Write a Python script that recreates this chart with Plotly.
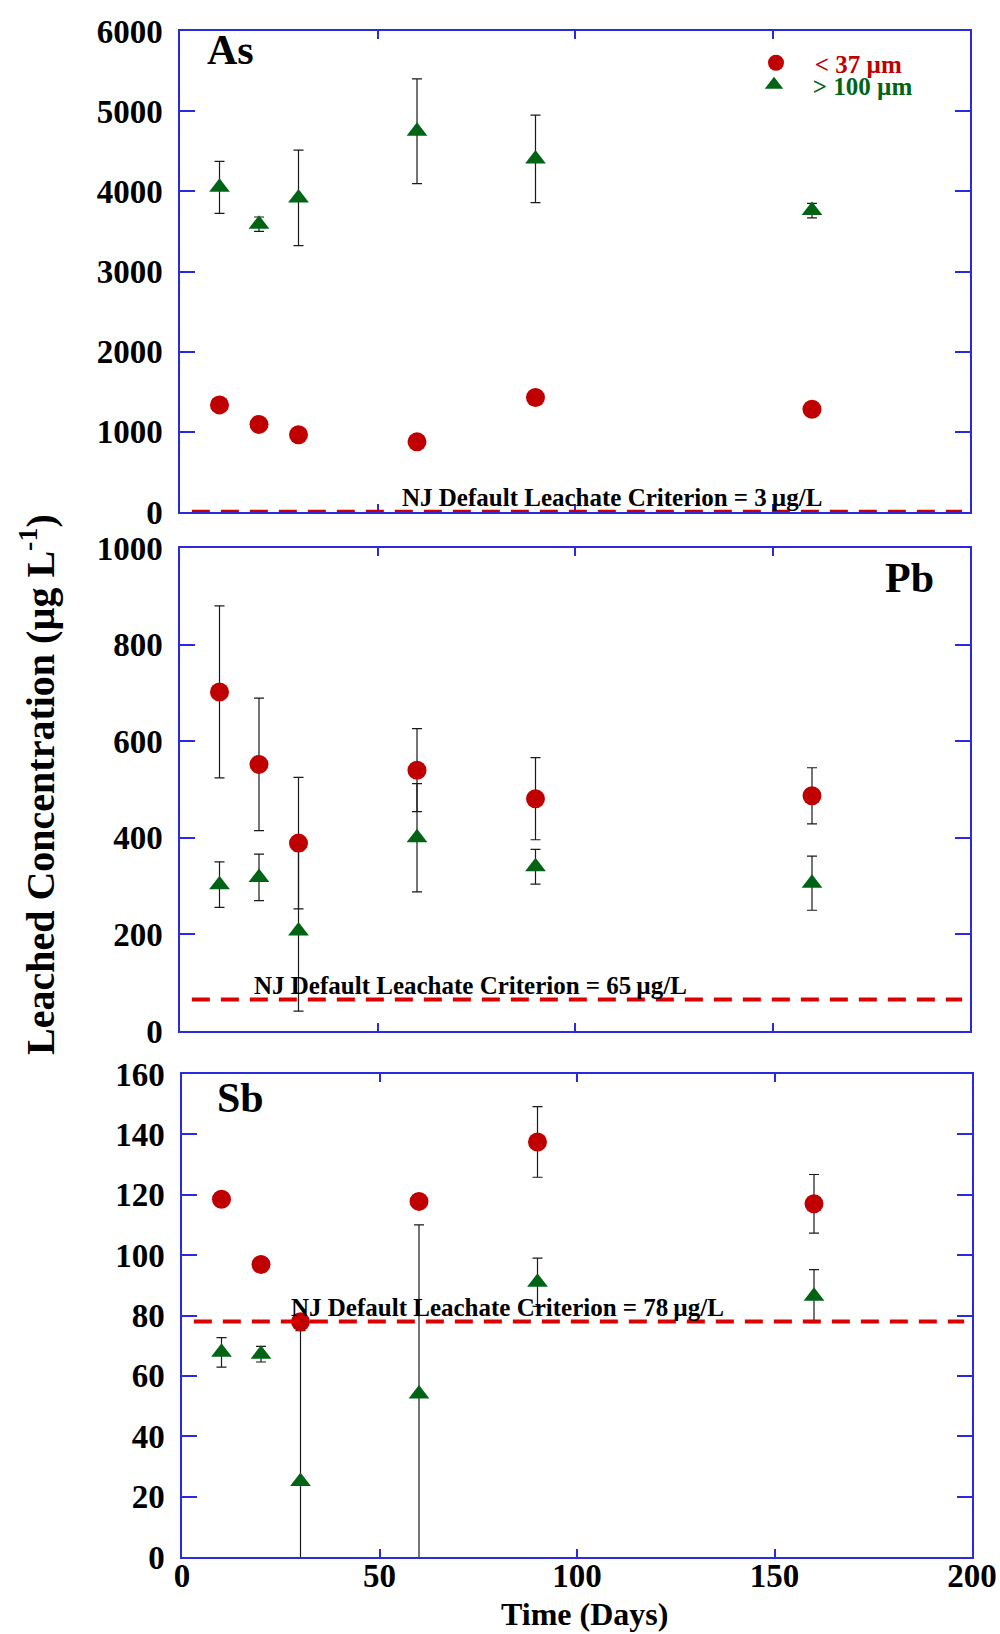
import plotly.graph_objects as go

# Sampling days (x) shared by all panels
DAYS = [10, 20, 30, 60, 90, 160]

# Arsenic, ug/L
AS_FINE = [1336, 1093, 963, 875, 1429, 1282]
AS_COARSE = [4050, 3590, 3918, 4750, 4404, 3760]
AS_COARSE_ERR = [324, 90, 595, 653, 546, 90]

# Lead, ug/L
PB_FINE = [702, 552, 389, 540, 481, 487]
PB_FINE_ERR = [178, 137, 136, 86, 85, 58]
PB_COARSE = [303, 318, 207, 400, 340, 306]
PB_COARSE_ERR = [47, 48, 166, 112, 36, 56]

# Antimony, ug/L
SB_FINE = [118.5, 96.9, 77.9, 117.8, 137.5, 117.0]
SB_FINE_ERR = [None, None, None, None, 11.7, 9.7]
SB_COARSE = [67.8, 67.2, 25.0, 54.0, 91.0, 86.4]
SB_COARSE_ERR = [4.9, 2.6, 50.0, 56.0, 8.0, 8.8]

ELEMENTS = ["As", "Pb", "Sb"]
CRITERIA = [3, 65, 78]          # NJ default leachate criteria, ug/L
Y_MAX = [6000, 1000, 160]
Y_STEP = [1000, 200, 20]
X_TICKS = [0, 50, 100, 150, 200]
SERIES_NAMES = ["< 37 µm", "> 100 µm"]

FONT = "Liberation Serif, Times New Roman, serif"
RED = "#C00000"
GREEN = "#006414"
AXIS_BLUE = "#2a2ae0"
DASH_RED = ["#C80000", "#DD0000", "#DD0000"]

W, H = 1000, 1634
# plot-area pixel boxes (left, right, top, bottom)
BOXES = [(180, 970, 31, 512), (180, 970, 548, 1031), (182, 972, 1074, 1557)]

panels = [
    (AS_FINE, None, AS_COARSE, AS_COARSE_ERR),
    (PB_FINE, PB_FINE_ERR, PB_COARSE, PB_COARSE_ERR),
    (SB_FINE, SB_FINE_ERR, SB_COARSE, SB_COARSE_ERR),
]

fig = go.Figure()


def err(arr):
    if arr is None:
        return dict(visible=False)
    return dict(type="data", array=arr, visible=True, color="#1a1a1a",
                thickness=1.2, width=5)


for i, (fine, fine_err, coarse, coarse_err) in enumerate(panels):
    xa = "x" if i == 0 else f"x{i + 1}"
    ya = "y" if i == 0 else f"y{i + 1}"
    fig.add_trace(go.Scatter(
        x=DAYS, y=coarse, mode="markers", xaxis=xa, yaxis=ya,
        name="\u00a0\u00a0\u00a0" + SERIES_NAMES[1], legend="legend2",
        showlegend=(i == 0),
        marker=dict(symbol="triangle-up", size=18, color=GREEN),
        error_y=err(coarse_err), cliponaxis=True,
    ))
    fig.add_trace(go.Scatter(
        x=DAYS, y=fine, mode="markers", xaxis=xa, yaxis=ya,
        name="\u00a0\u00a0\u00a0" + SERIES_NAMES[0], legend="legend",
        showlegend=(i == 0),
        marker=dict(symbol="circle", size=19, color=RED),
        error_y=err(fine_err), cliponaxis=True,
    ))

axis_common = dict(
    showgrid=False, zeroline=False, showline=True, linecolor=AXIS_BLUE,
    linewidth=1.5, mirror="ticks", ticks="inside", tickcolor=AXIS_BLUE,
    tickwidth=1.5, automargin=False,
    tickfont=dict(family=FONT, size=33, color="black", weight="bold"),
)

layout = dict(
    width=W, height=H,
    margin=dict(l=0, r=0, t=0, b=0, pad=0, autoexpand=False),
    paper_bgcolor="white", plot_bgcolor="white",
    font=dict(family=FONT, color="black"),
    shapes=[], annotations=[],
)

label_pos = [(230, 50), (909, 578), (240, 1098)]
crit_label_x = [612, 470, 507]

for i in range(3):
    l, r, t, b = BOXES[i]
    sfx = "" if i == 0 else str(i + 1)
    layout["xaxis" + sfx] = dict(
        axis_common, domain=[l / W, r / W], anchor="y" + sfx,
        range=[0, 200], tickvals=X_TICKS, ticklen=8,
        showticklabels=(i == 2), ticklabelstandoff=-11,
    )
    layout["yaxis" + sfx] = dict(
        axis_common, domain=[1 - b / H, 1 - t / H], anchor="x" + sfx,
        range=[0, Y_MAX[i]], dtick=Y_STEP[i], tick0=0, ticklen=15,
        ticklabelstandoff=9,
    )
    # criterion line
    layout["shapes"].append(dict(
        type="line", xref="x" + sfx, yref="y" + sfx,
        x0=3, x1=198, y0=CRITERIA[i], y1=CRITERIA[i],
        line=dict(color=DASH_RED[i], width=4, dash="18px,11px"),
    ))
    layout["annotations"].append(dict(
        xref="paper", yref="y" + sfx, x=crit_label_x[i] / W, y=CRITERIA[i],
        xanchor="center", yanchor="bottom", showarrow=False, yshift=-1,
        text=f"NJ Default Leachate Criterion = {CRITERIA[i]}\u2009µg/L",
        font=dict(family=FONT, size=25, color="black", weight="bold"),
    ))
    # element label
    px, py = label_pos[i]
    layout["annotations"].append(dict(
        xref="paper", yref="paper", x=px / W, y=1 - py / H,
        xanchor="center", yanchor="middle", showarrow=False,
        text=ELEMENTS[i],
        font=dict(family=FONT, size=42, color="black", weight="bold"),
    ))

# axis titles
layout["annotations"].append(dict(
    xref="paper", yref="paper", x=38 / W, y=1 - 785 / H,
    xanchor="center", yanchor="middle", showarrow=False, textangle=-90,
    text="Leached Concentration (µg L<sup>-1</sup>)",
    font=dict(family=FONT, size=40, color="black", weight="bold"),
))
layout["annotations"].append(dict(
    xref="paper", yref="paper", x=584 / W, y=1 - 1614 / H,
    xanchor="center", yanchor="middle", showarrow=False,
    text="Time (Days)",
    font=dict(family=FONT, size=32, color="black", weight="bold"),
))

leg_common = dict(xanchor="left", yanchor="middle", bgcolor="rgba(0,0,0,0)",
                  borderwidth=0, itemwidth=30)
layout["legend"] = dict(leg_common, x=756 / W, y=1 - 63 / H,
                        font=dict(family=FONT, size=25, color=RED, weight="bold"))
layout["legend2"] = dict(leg_common, x=754 / W, y=1 - 85 / H,
                         font=dict(family=FONT, size=25, color=GREEN, weight="bold"))

fig.update_layout(**layout)
fig.write_html("out.html")
